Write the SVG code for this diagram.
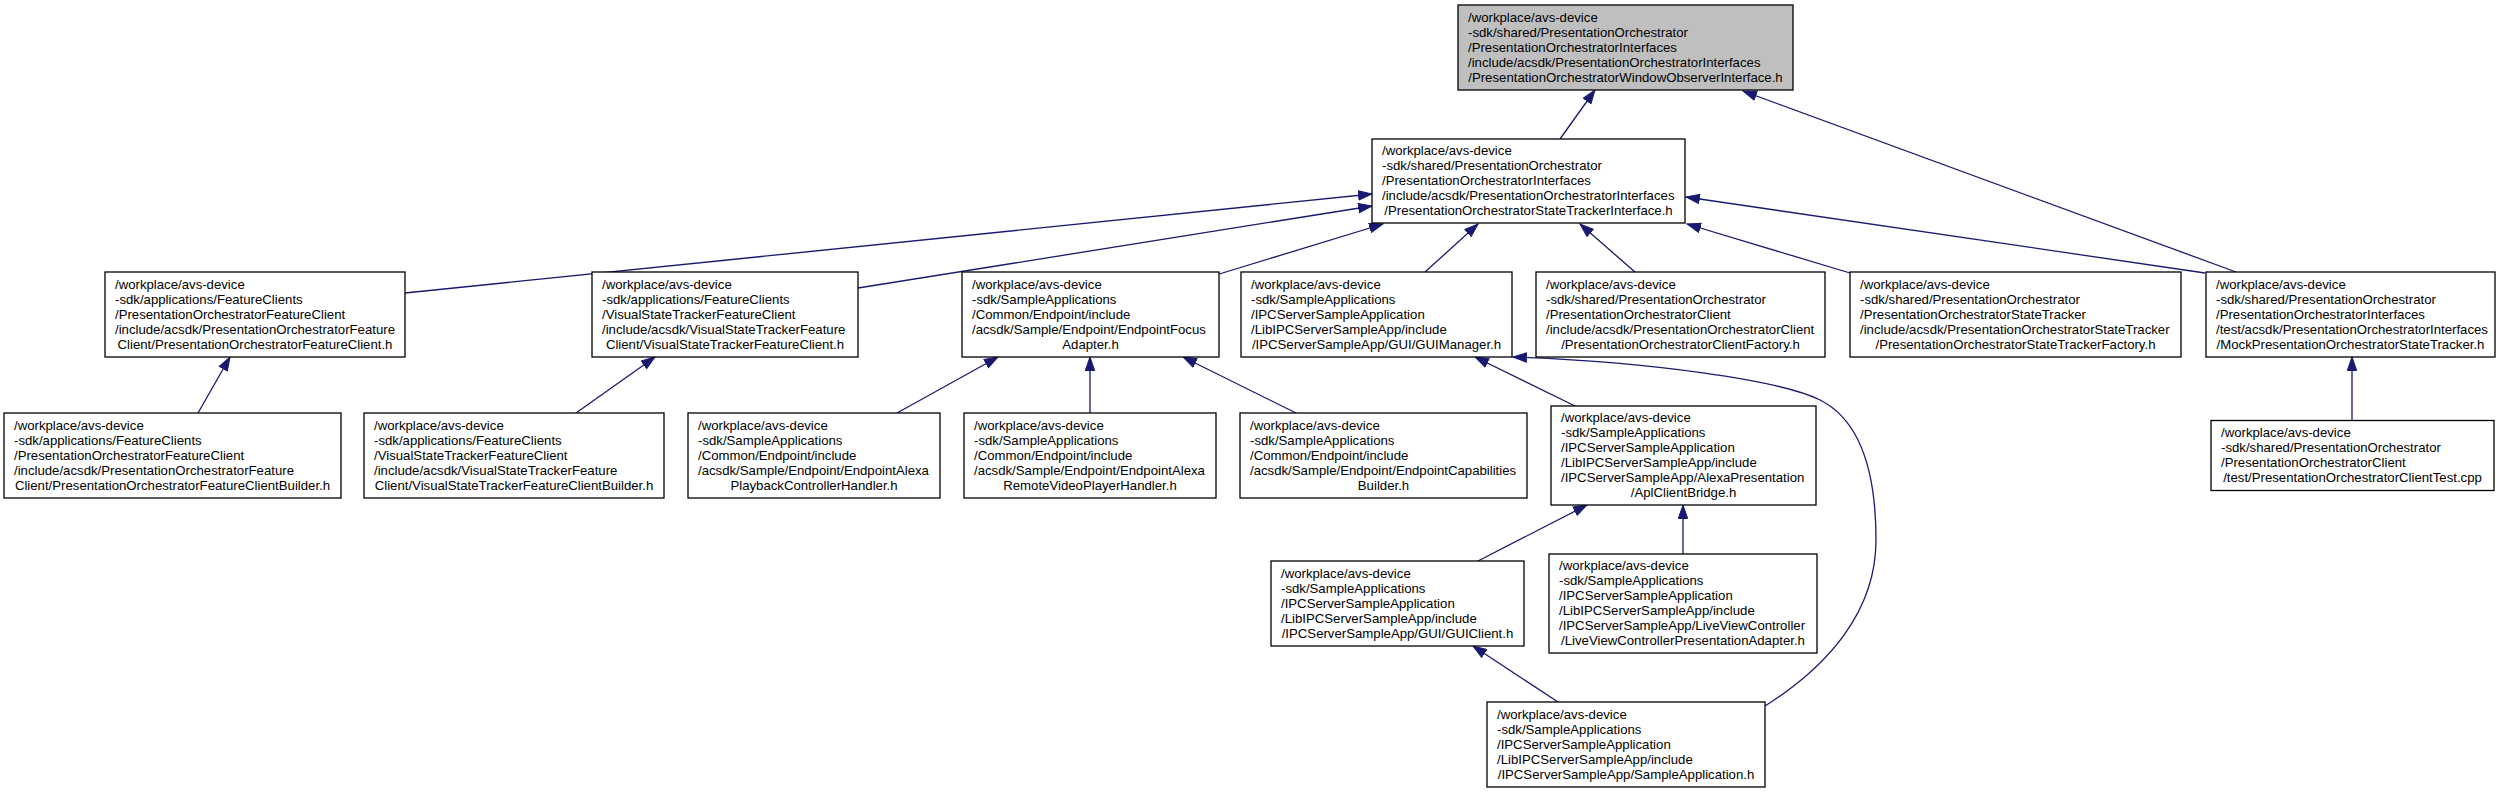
<svg xmlns="http://www.w3.org/2000/svg" width="2505" height="792" viewBox="0 0 2505 792">
<defs>
<style>
.n rect { fill: #ffffff; stroke: #000000; stroke-width: 1.3; }
.root rect { fill: #bfbfbf; }
text { font-family: "Liberation Sans", Arial, Helvetica, sans-serif; font-size: 13.2px; fill: #000000; }
.c { text-anchor: middle; }
.e { fill: none; stroke: #191970; stroke-width: 1.3; marker-end: url(#ah); }
</style>
<marker id="ah" markerUnits="userSpaceOnUse" markerWidth="15" markerHeight="11" viewBox="0 0 15 11" refX="14" refY="5.5" orient="auto"><path d="M0.5,0.8 L14,5.5 L0.5,10.2 z" fill="#191970" stroke="#191970" stroke-width="1"/></marker>
</defs>
<rect width="2505" height="792" fill="#ffffff"/>
<g id="edges">
<path class="e" d="M1560,139 L1595,90"/>
<path class="e" d="M2236,272 L1743,91"/>
<path class="e" d="M2205,273 L1686,197"/>
<path class="e" d="M405,293 L1372,194"/>
<path class="e" d="M858,288 L1372,206"/>
<path class="e" d="M1216,275 L1383,224"/>
<path class="e" d="M1425,272 L1478,224"/>
<path class="e" d="M1635,272 L1580,224"/>
<path class="e" d="M1850,273 L1687,224"/>
<path class="e" d="M198,413 L230,357"/>
<path class="e" d="M576,413 L655,357"/>
<path class="e" d="M897,413 L998,357"/>
<path class="e" d="M1090,413 L1090,357"/>
<path class="e" d="M1296,413 L1183,357"/>
<path class="e" d="M1575,406 L1475,357"/>
<path class="e" d="M1765,706 C1830,665 1876,610 1876,540 C1876,470 1860,420 1820,400 C1780,380 1650,362 1513,357"/>
<path class="e" d="M1478,561 L1587,505"/>
<path class="e" d="M1683,554 L1683,505"/>
<path class="e" d="M1558,702 L1473,646"/>
<path class="e" d="M2352,420 L2352,357"/>
</g>
<g id="nA" class="n root">
<rect x="1458" y="5" width="335" height="85"/>
<text x="1468" y="21.5">/workplace/avs-device</text>
<text x="1468" y="36.5">-sdk/shared/PresentationOrchestrator</text>
<text x="1468" y="51.5">/PresentationOrchestratorInterfaces</text>
<text x="1468" y="66.5">/include/acsdk/PresentationOrchestratorInterfaces</text>
<text class="c" x="1625.5" y="81.5">/PresentationOrchestratorWindowObserverInterface.h</text>
</g>
<g id="nB" class="n">
<rect x="1372" y="139" width="313" height="84"/>
<text x="1382" y="155">/workplace/avs-device</text>
<text x="1382" y="170">-sdk/shared/PresentationOrchestrator</text>
<text x="1382" y="185">/PresentationOrchestratorInterfaces</text>
<text x="1382" y="200">/include/acsdk/PresentationOrchestratorInterfaces</text>
<text class="c" x="1528.5" y="215">/PresentationOrchestratorStateTrackerInterface.h</text>
</g>
<g id="nC" class="n">
<rect x="105" y="272" width="300" height="85"/>
<text x="115" y="288.5">/workplace/avs-device</text>
<text x="115" y="303.5">-sdk/applications/FeatureClients</text>
<text x="115" y="318.5">/PresentationOrchestratorFeatureClient</text>
<text x="115" y="333.5">/include/acsdk/PresentationOrchestratorFeature</text>
<text class="c" x="255" y="348.5">Client/PresentationOrchestratorFeatureClient.h</text>
</g>
<g id="nD" class="n">
<rect x="592" y="272" width="266" height="85"/>
<text x="602" y="288.5">/workplace/avs-device</text>
<text x="602" y="303.5">-sdk/applications/FeatureClients</text>
<text x="602" y="318.5">/VisualStateTrackerFeatureClient</text>
<text x="602" y="333.5">/include/acsdk/VisualStateTrackerFeature</text>
<text class="c" x="725" y="348.5">Client/VisualStateTrackerFeatureClient.h</text>
</g>
<g id="nE" class="n">
<rect x="962" y="272" width="257" height="85"/>
<text x="972" y="288.5">/workplace/avs-device</text>
<text x="972" y="303.5">-sdk/SampleApplications</text>
<text x="972" y="318.5">/Common/Endpoint/include</text>
<text x="972" y="333.5">/acsdk/Sample/Endpoint/EndpointFocus</text>
<text class="c" x="1090.5" y="348.5">Adapter.h</text>
</g>
<g id="nF" class="n">
<rect x="1241" y="272" width="271" height="85"/>
<text x="1251" y="288.5">/workplace/avs-device</text>
<text x="1251" y="303.5">-sdk/SampleApplications</text>
<text x="1251" y="318.5">/IPCServerSampleApplication</text>
<text x="1251" y="333.5">/LibIPCServerSampleApp/include</text>
<text class="c" x="1376.5" y="348.5">/IPCServerSampleApp/GUI/GUIManager.h</text>
</g>
<g id="nG" class="n">
<rect x="1536" y="272" width="289" height="85"/>
<text x="1546" y="288.5">/workplace/avs-device</text>
<text x="1546" y="303.5">-sdk/shared/PresentationOrchestrator</text>
<text x="1546" y="318.5">/PresentationOrchestratorClient</text>
<text x="1546" y="333.5">/include/acsdk/PresentationOrchestratorClient</text>
<text class="c" x="1680.5" y="348.5">/PresentationOrchestratorClientFactory.h</text>
</g>
<g id="nH" class="n">
<rect x="1850" y="272" width="331" height="85"/>
<text x="1860" y="288.5">/workplace/avs-device</text>
<text x="1860" y="303.5">-sdk/shared/PresentationOrchestrator</text>
<text x="1860" y="318.5">/PresentationOrchestratorStateTracker</text>
<text x="1860" y="333.5">/include/acsdk/PresentationOrchestratorStateTracker</text>
<text class="c" x="2015.5" y="348.5">/PresentationOrchestratorStateTrackerFactory.h</text>
</g>
<g id="nI" class="n">
<rect x="2206" y="272" width="289" height="85"/>
<text x="2216" y="288.5">/workplace/avs-device</text>
<text x="2216" y="303.5">-sdk/shared/PresentationOrchestrator</text>
<text x="2216" y="318.5">/PresentationOrchestratorInterfaces</text>
<text x="2216" y="333.5">/test/acsdk/PresentationOrchestratorInterfaces</text>
<text class="c" x="2350.5" y="348.5">/MockPresentationOrchestratorStateTracker.h</text>
</g>
<g id="nJ" class="n">
<rect x="4" y="413" width="337" height="85"/>
<text x="14" y="429.5">/workplace/avs-device</text>
<text x="14" y="444.5">-sdk/applications/FeatureClients</text>
<text x="14" y="459.5">/PresentationOrchestratorFeatureClient</text>
<text x="14" y="474.5">/include/acsdk/PresentationOrchestratorFeature</text>
<text class="c" x="172.5" y="489.5">Client/PresentationOrchestratorFeatureClientBuilder.h</text>
</g>
<g id="nK" class="n">
<rect x="364" y="413" width="300" height="85"/>
<text x="374" y="429.5">/workplace/avs-device</text>
<text x="374" y="444.5">-sdk/applications/FeatureClients</text>
<text x="374" y="459.5">/VisualStateTrackerFeatureClient</text>
<text x="374" y="474.5">/include/acsdk/VisualStateTrackerFeature</text>
<text class="c" x="514" y="489.5">Client/VisualStateTrackerFeatureClientBuilder.h</text>
</g>
<g id="nL" class="n">
<rect x="688" y="413" width="252" height="85"/>
<text x="698" y="429.5">/workplace/avs-device</text>
<text x="698" y="444.5">-sdk/SampleApplications</text>
<text x="698" y="459.5">/Common/Endpoint/include</text>
<text x="698" y="474.5">/acsdk/Sample/Endpoint/EndpointAlexa</text>
<text class="c" x="814" y="489.5">PlaybackControllerHandler.h</text>
</g>
<g id="nM" class="n">
<rect x="964" y="413" width="252" height="85"/>
<text x="974" y="429.5">/workplace/avs-device</text>
<text x="974" y="444.5">-sdk/SampleApplications</text>
<text x="974" y="459.5">/Common/Endpoint/include</text>
<text x="974" y="474.5">/acsdk/Sample/Endpoint/EndpointAlexa</text>
<text class="c" x="1090" y="489.5">RemoteVideoPlayerHandler.h</text>
</g>
<g id="nN" class="n">
<rect x="1240" y="413" width="287" height="85"/>
<text x="1250" y="429.5">/workplace/avs-device</text>
<text x="1250" y="444.5">-sdk/SampleApplications</text>
<text x="1250" y="459.5">/Common/Endpoint/include</text>
<text x="1250" y="474.5">/acsdk/Sample/Endpoint/EndpointCapabilities</text>
<text class="c" x="1383.5" y="489.5">Builder.h</text>
</g>
<g id="nO" class="n">
<rect x="1551" y="406" width="265" height="99"/>
<text x="1561" y="422">/workplace/avs-device</text>
<text x="1561" y="437">-sdk/SampleApplications</text>
<text x="1561" y="452">/IPCServerSampleApplication</text>
<text x="1561" y="467">/LibIPCServerSampleApp/include</text>
<text x="1561" y="482">/IPCServerSampleApp/AlexaPresentation</text>
<text class="c" x="1683.5" y="497">/AplClientBridge.h</text>
</g>
<g id="nP" class="n">
<rect x="2211" y="420.5" width="283" height="70"/>
<text x="2221" y="437">/workplace/avs-device</text>
<text x="2221" y="452">-sdk/shared/PresentationOrchestrator</text>
<text x="2221" y="467">/PresentationOrchestratorClient</text>
<text class="c" x="2352.5" y="482">/test/PresentationOrchestratorClientTest.cpp</text>
</g>
<g id="nQ" class="n">
<rect x="1271" y="561" width="253" height="85"/>
<text x="1281" y="577.5">/workplace/avs-device</text>
<text x="1281" y="592.5">-sdk/SampleApplications</text>
<text x="1281" y="607.5">/IPCServerSampleApplication</text>
<text x="1281" y="622.5">/LibIPCServerSampleApp/include</text>
<text class="c" x="1397.5" y="637.5">/IPCServerSampleApp/GUI/GUIClient.h</text>
</g>
<g id="nR" class="n">
<rect x="1549" y="554" width="268" height="99"/>
<text x="1559" y="570">/workplace/avs-device</text>
<text x="1559" y="585">-sdk/SampleApplications</text>
<text x="1559" y="600">/IPCServerSampleApplication</text>
<text x="1559" y="615">/LibIPCServerSampleApp/include</text>
<text x="1559" y="630">/IPCServerSampleApp/LiveViewController</text>
<text class="c" x="1683" y="645">/LiveViewControllerPresentationAdapter.h</text>
</g>
<g id="nS" class="n">
<rect x="1487" y="702" width="278" height="85"/>
<text x="1497" y="718.5">/workplace/avs-device</text>
<text x="1497" y="733.5">-sdk/SampleApplications</text>
<text x="1497" y="748.5">/IPCServerSampleApplication</text>
<text x="1497" y="763.5">/LibIPCServerSampleApp/include</text>
<text class="c" x="1626" y="778.5">/IPCServerSampleApp/SampleApplication.h</text>
</g>
</svg>
